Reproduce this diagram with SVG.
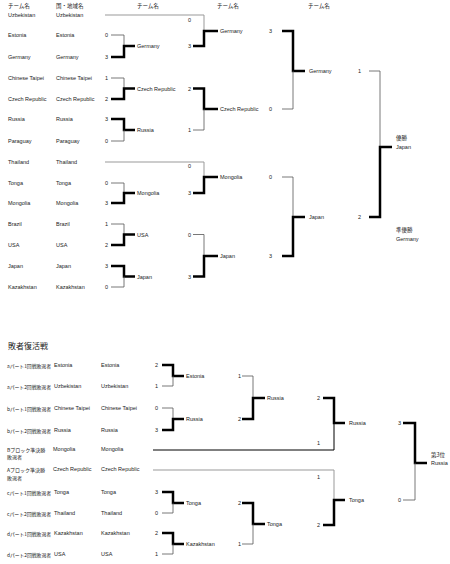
<svg xmlns="http://www.w3.org/2000/svg" width="450" height="564" viewBox="0 0 450 564">
<style>
text{font-family:"Liberation Sans","Noto Sans CJK JP",sans-serif;font-size:5.5px;fill:#222;dominant-baseline:central}
.j{font-family:"Noto Sans CJK JP","Liberation Sans",sans-serif}
.lb{font-family:"Noto Sans CJK JP","Liberation Sans",sans-serif;font-size:5px}
.h{font-size:8px;font-family:"Noto Sans CJK JP",sans-serif}
.thick{fill:none;stroke:#000;stroke-width:2.5}
.thin{fill:none;stroke:#555;stroke-width:0.8}
.bye{fill:none;stroke:#999;stroke-width:1}
.blk{fill:none;stroke:#000;stroke-width:1}
</style>
<rect width="450" height="564" fill="#fff"/>
<g id="headers">
<text class="j" x="8" y="6">チーム名</text>
<text class="j" x="56" y="6">国・地域名</text>
<text class="j" x="137" y="6">チーム名</text>
<text class="j" x="217" y="6">チーム名</text>
<text class="j" x="308" y="6">チーム名</text>
</g>
<g id="connectors">
<path class="thin" d="M111 35H124V46"/><path class="thick" d="M111 57H124V46H135"/>
<path class="thin" d="M111 78H124V88.5"/><path class="thick" d="M111 99H124V88.5H135"/>
<path class="thick" d="M111 119H124V130H135"/><path class="thin" d="M111 141H124V130"/>
<path class="thin" d="M111 183H124V193"/><path class="thick" d="M111 203H124V193H135"/>
<path class="thin" d="M111 224H124V234.5"/><path class="thick" d="M111 245H124V234.5H135"/>
<path class="thick" d="M111 266H124V276.5H135"/><path class="thin" d="M111 287H124V276.5"/>
<path class="bye" d="M105 15H204V31"/><path class="thick" d="M193 46H204V31H218"/>
<path class="thick" d="M193 88.5H204V109H218"/><path class="thin" d="M193 130H204V109"/>
<path class="bye" d="M105 162H204V177"/><path class="thick" d="M193 193H204V177H218"/>
<path class="thin" d="M193 234.5H204V256"/><path class="thick" d="M193 276.5H204V256H218"/>
<path class="thick" d="M282 31H293V71H305"/><path class="thin" d="M282 109H293V71"/>
<path class="thin" d="M282 177H293V217"/><path class="thick" d="M282 256H293V217H305"/>
<path class="thin" d="M369 71H380V147"/><path class="thick" d="M369 217H380V147H392"/>
<path class="thick" d="M162 365H173V376H184"/><path class="thin" d="M162 386H173V376"/>
<path class="thin" d="M162 408H173V419"/><path class="thick" d="M162 430H173V419H184"/>
<path class="thick" d="M162 492H173V503H184"/><path class="thin" d="M162 513H173V503"/>
<path class="thick" d="M162 533H173V544H184"/><path class="thin" d="M162 554H173V544"/>
<path class="thin" d="M242 376H253V398"/><path class="thick" d="M242 419H253V398H265"/>
<path class="thick" d="M242 503H253V524H265"/><path class="thin" d="M242 544H253V524"/>
<path class="thick" d="M323 398H334V423H345"/><path class="blk" d="M153 450H334V423"/>
<path class="bye" d="M153 470H334V500"/><path class="thick" d="M323 525H334V500H345"/>
<path class="thick" d="M403 423H415V463H427"/><path class="thin" d="M403 500H415V463"/>
</g>
<g id="teams-r1">
<g id="t-uzb"><text x="8" y="15">Uzbekistan</text><text x="56" y="15">Uzbekistan</text></g>
<g id="t-est"><text x="8" y="35">Estonia</text><text x="56" y="35">Estonia</text><text x="105" y="35">0</text></g>
<g id="t-ger"><text x="8" y="57">Germany</text><text x="56" y="57">Germany</text><text x="105" y="57">3</text></g>
<g id="t-tpe"><text x="8" y="78">Chinese Taipei</text><text x="56" y="78">Chinese Taipei</text><text x="105" y="78">1</text></g>
<g id="t-cze"><text x="8" y="99">Czech Republic</text><text x="56" y="99">Czech Republic</text><text x="105" y="99">2</text></g>
<g id="t-rus"><text x="8" y="119">Russia</text><text x="56" y="119">Russia</text><text x="105" y="119">3</text></g>
<g id="t-par"><text x="8" y="141">Paraguay</text><text x="56" y="141">Paraguay</text><text x="105" y="141">0</text></g>
<g id="t-tha"><text x="8" y="162">Thailand</text><text x="56" y="162">Thailand</text></g>
<g id="t-ton"><text x="8" y="183">Tonga</text><text x="56" y="183">Tonga</text><text x="105" y="183">0</text></g>
<g id="t-mgl"><text x="8" y="203">Mongolia</text><text x="56" y="203">Mongolia</text><text x="105" y="203">3</text></g>
<g id="t-bra"><text x="8" y="224">Brazil</text><text x="56" y="224">Brazil</text><text x="105" y="224">1</text></g>
<g id="t-usa"><text x="8" y="245">USA</text><text x="56" y="245">USA</text><text x="105" y="245">2</text></g>
<g id="t-jpn"><text x="8" y="266">Japan</text><text x="56" y="266">Japan</text><text x="105" y="266">3</text></g>
<g id="t-kaz"><text x="8" y="287">Kazakhstan</text><text x="56" y="287">Kazakhstan</text><text x="105" y="287">0</text></g>
</g>
<g id="teams-r2">
<g id="r2-ger"><text x="137" y="46">Germany</text><text x="188" y="46">3</text><text x="188" y="20">0</text></g>
<g id="r2-cze"><text x="137" y="88.5">Czech Republic</text><text x="188" y="88.5">2</text></g>
<g id="r2-rus"><text x="137" y="130">Russia</text><text x="188" y="130">1</text></g>
<g id="r2-mgl"><text x="137" y="193">Mongolia</text><text x="188" y="193">3</text><text x="188" y="166">0</text></g>
<g id="r2-usa"><text x="137" y="234.5">USA</text><text x="188" y="234.5">0</text></g>
<g id="r2-jpn"><text x="137" y="276.5">Japan</text><text x="188" y="276.5">3</text></g>
</g>
<g id="teams-r3">
<g id="r3-ger"><text x="220" y="31">Germany</text><text x="269" y="31">3</text></g>
<g id="r3-cze"><text x="220" y="109">Czech Republic</text><text x="269" y="109">0</text></g>
<g id="r3-mgl"><text x="220" y="177">Mongolia</text><text x="269" y="177">0</text></g>
<g id="r3-jpn"><text x="220" y="256">Japan</text><text x="269" y="256">3</text></g>
</g>
<g id="teams-final">
<g id="f-ger"><text x="309" y="71">Germany</text><text x="358" y="71">1</text></g>
<g id="f-jpn"><text x="309" y="217">Japan</text><text x="358" y="217">2</text></g>
<g id="champion"><text class="j" x="396" y="138">優勝</text><text x="396" y="147">Japan</text></g>
<g id="runnerup"><text class="j" x="396" y="230">準優勝</text><text x="396" y="239">Germany</text></g>
</g>
<text class="h" x="8" y="345">敗者復活戦</text>
<g id="rep-r1">
<g id="l-est"><text class="lb" x="7" y="365" textLength="44" lengthAdjust="spacingAndGlyphs">aパート1回戦敗退者</text><text x="54" y="365">Estonia</text><text x="101" y="365">Estonia</text><text x="155" y="365">2</text></g>
<g id="l-uzb"><text class="lb" x="7" y="386" textLength="44" lengthAdjust="spacingAndGlyphs">aパート2回戦敗退者</text><text x="54" y="386">Uzbekistan</text><text x="101" y="386">Uzbekistan</text><text x="155" y="386">1</text></g>
<g id="l-tpe"><text class="lb" x="7" y="408" textLength="44" lengthAdjust="spacingAndGlyphs">bパート1回戦敗退者</text><text x="54" y="408">Chinese Taipei</text><text x="101" y="408">Chinese Taipei</text><text x="155" y="408">0</text></g>
<g id="l-rus"><text class="lb" x="7" y="430" textLength="44" lengthAdjust="spacingAndGlyphs">bパート2回戦敗退者</text><text x="54" y="430">Russia</text><text x="101" y="430">Russia</text><text x="155" y="430">3</text></g>
<g id="l-mgl"><text class="lb" x="7" y="449">Bブロック準決勝</text><text class="lb" x="7" y="456">敗退者</text><text x="53" y="449">Mongolia</text><text x="101" y="449">Mongolia</text></g>
<g id="l-cze"><text class="lb" x="7" y="469">Aブロック準決勝</text><text class="lb" x="7" y="477">敗退者</text><text x="53" y="469">Czech Republic</text><text x="101" y="469">Czech Republic</text></g>
<g id="l-ton"><text class="lb" x="7" y="492" textLength="44" lengthAdjust="spacingAndGlyphs">cパート1回戦敗退者</text><text x="54" y="492">Tonga</text><text x="101" y="492">Tonga</text><text x="155" y="492">3</text></g>
<g id="l-tha"><text class="lb" x="7" y="513" textLength="44" lengthAdjust="spacingAndGlyphs">cパート2回戦敗退者</text><text x="54" y="513">Thailand</text><text x="101" y="513">Thailand</text><text x="155" y="513">0</text></g>
<g id="l-kaz"><text class="lb" x="7" y="533" textLength="44" lengthAdjust="spacingAndGlyphs">dパート1回戦敗退者</text><text x="54" y="533">Kazakhstan</text><text x="101" y="533">Kazakhstan</text><text x="155" y="533">2</text></g>
<g id="l-usa"><text class="lb" x="7" y="554" textLength="44" lengthAdjust="spacingAndGlyphs">dパート2回戦敗退者</text><text x="54" y="554">USA</text><text x="101" y="554">USA</text><text x="155" y="554">1</text></g>
</g>
<g id="rep-r2">
<g id="l2-est"><text x="186" y="376">Estonia</text><text x="238" y="376">1</text></g>
<g id="l2-rus"><text x="186" y="419">Russia</text><text x="238" y="419">2</text></g>
<g id="l2-ton"><text x="186" y="503">Tonga</text><text x="238" y="503">2</text></g>
<g id="l2-kaz"><text x="186" y="544">Kazakhstan</text><text x="238" y="544">1</text></g>
</g>
<g id="rep-r3">
<g id="l3-rus"><text x="267" y="398">Russia</text><text x="317" y="398">2</text></g>
<g id="l3-mgl"><text x="317" y="443">1</text></g>
<g id="l3-cze"><text x="317" y="477">1</text></g>
<g id="l3-ton"><text x="267" y="524">Tonga</text><text x="317" y="525">2</text></g>
</g>
<g id="rep-final">
<g id="l4-rus"><text x="349" y="423">Russia</text><text x="398" y="423">3</text></g>
<g id="l4-ton"><text x="349" y="500">Tonga</text><text x="398" y="500">0</text></g>
<g id="third"><text class="j" x="431" y="455">第3位</text><text x="431" y="463">Russia</text></g>
</g>
</svg>
